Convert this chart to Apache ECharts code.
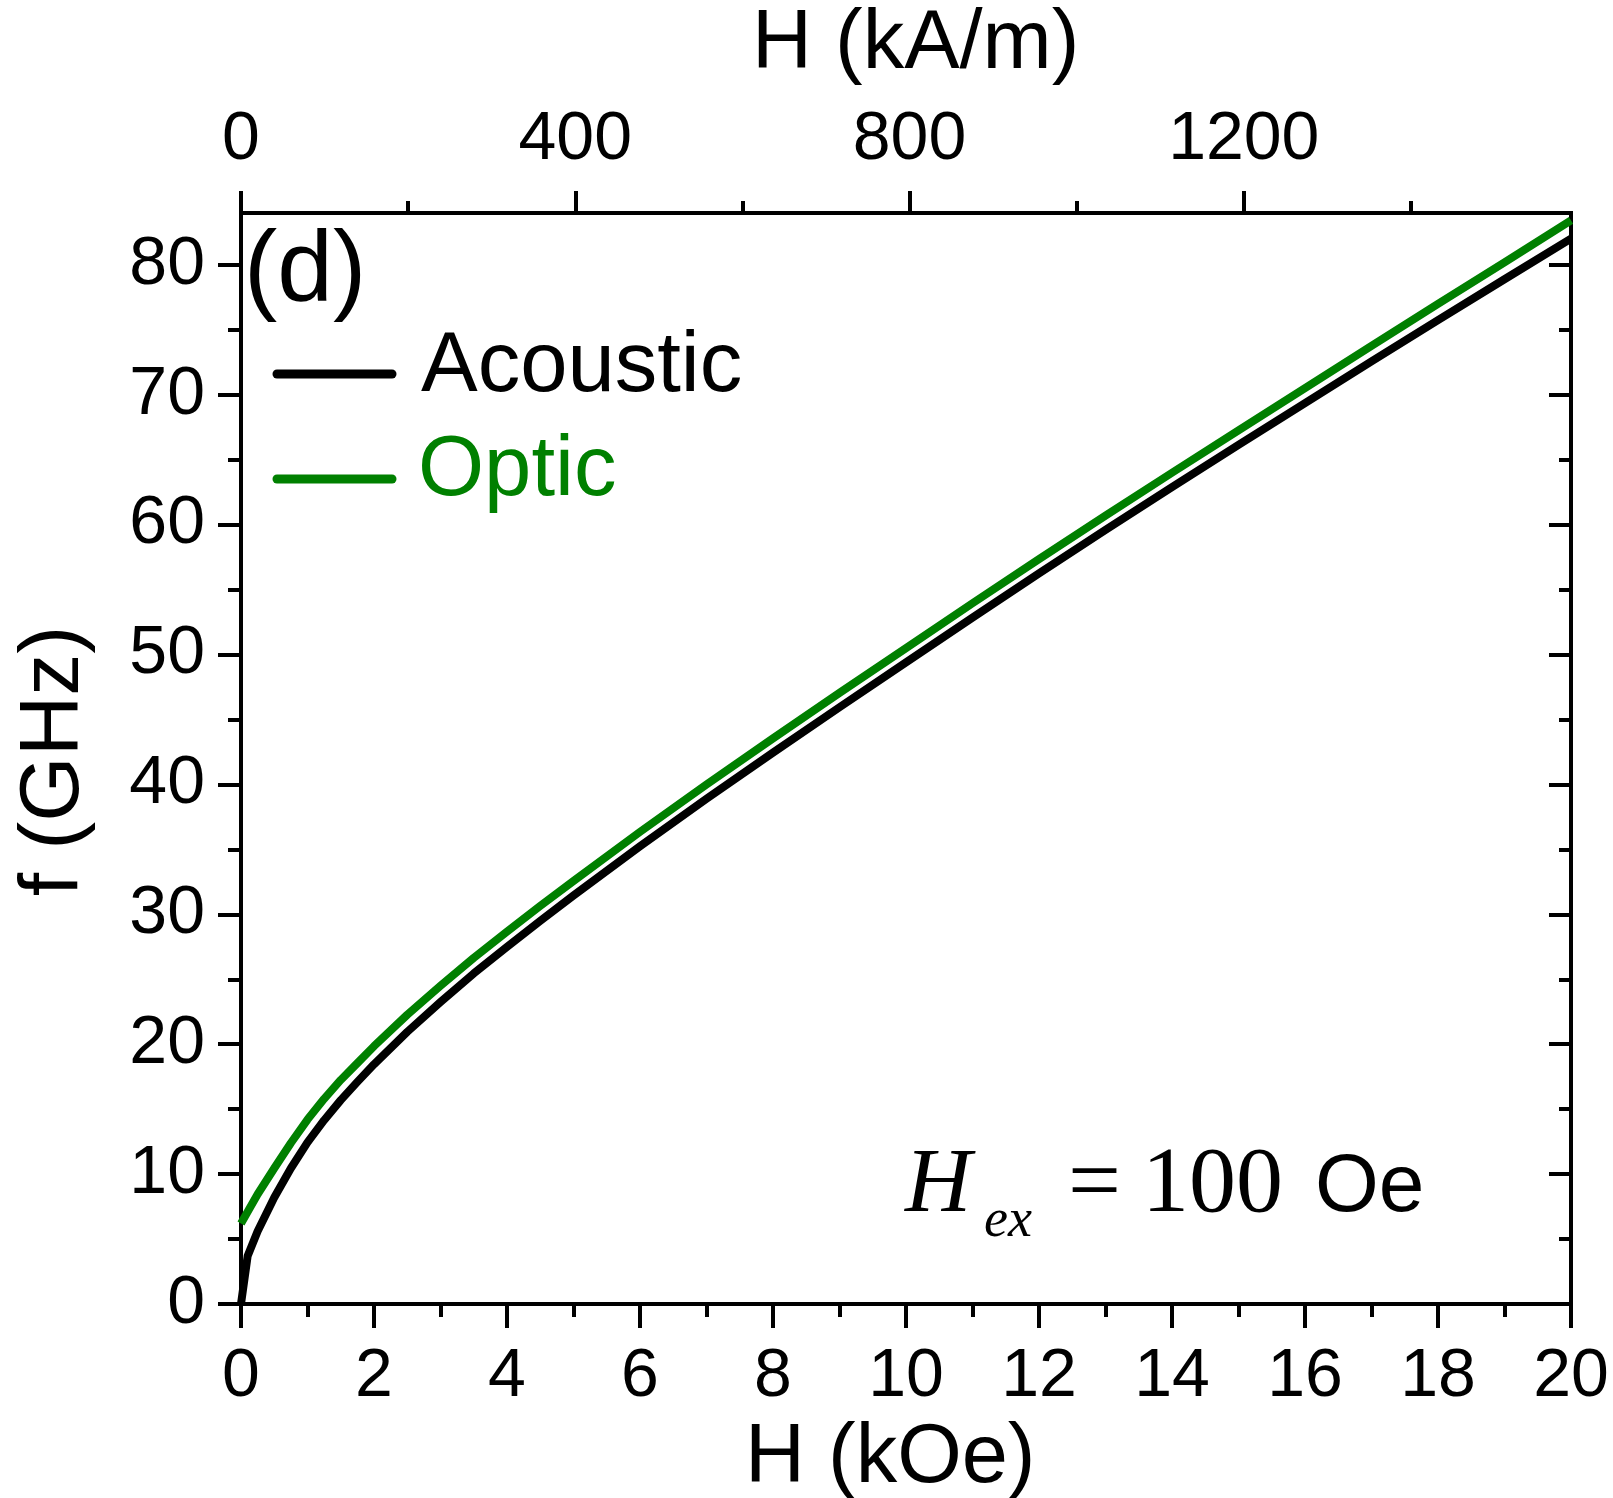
<!DOCTYPE html>
<html>
<head>
<meta charset="utf-8">
<script src="https://cdn.jsdelivr.net/npm/echarts@6/dist/echarts.min.js"></script>
<style>
html,body{margin:0;padding:0;background:#fff;}
#chart{width:1613px;height:1498px;}
</style>
</head>
<body>
<div id="chart"></div>
<script>
// ---- data ----
const fieldKOe    = [0, 0.1, 0.25, 0.5, 0.75, 1, 1.25, 1.5, 1.75, 2, 2.5, 3, 3.5, 4, 4.5, 5, 6, 7, 8, 9, 10, 11, 12, 13, 14, 15, 16, 17, 18, 19, 20];
const acousticGHz = [0, 3.7, 5.6, 8.2, 10.45, 12.45, 14.15, 15.7, 17.1, 18.45, 20.95, 23.25, 25.45, 27.5, 29.5, 31.45, 35.25, 38.9, 42.45, 45.95, 49.4, 52.85, 56.25, 59.6, 62.9, 66.15, 69.37, 72.57, 75.75, 78.9, 82.03];
const opticGHz    = [6.2, 7.1, 8.45, 10.45, 12.4, 14.2, 15.8, 17.25, 18.55, 19.85, 22.27, 24.5, 26.65, 28.67, 30.65, 32.57, 36.35, 40.0, 43.55, 47.05, 50.5, 53.95, 57.35, 60.7, 64.0, 67.27, 70.52, 73.77, 77.0, 80.2, 83.43];

const bottomTickInterval = 2;
const topMajorTicks = [0, 400, 800, 1200];
const topMinorTicks = [200, 600, 1000, 1400];
const yMajorTicks = [0, 10, 20, 30, 40, 50, 60, 70, 80];
const yMinorTicks = [5, 15, 25, 35, 45, 55, 65, 75];
const X_MIN = 0, X_MAX = 20, Y_MIN = 0, Y_MAX = 84;
const KAM_PER_KOE = 79.5775; // 1 kOe = 79.5775 kA/m

// ---- chart ----
const SANS = '"Liberation Sans", Arial, sans-serif';
const SERIF = '"Liberation Serif", "Times New Roman", serif';
const BLACK = '#000000';
const GREEN = '#008000';

const chart = echarts.init(document.getElementById('chart'), null, {renderer: 'canvas'});

const tickLine = {color: BLACK, width: 4};
const labelBase = {fontFamily: SANS, fontSize: 68, lineHeight: 68, color: BLACK};
const noLine = {show: false, onZero: false};

function pairs(xs, ys) { return xs.map((x, i) => [x, ys[i]]); }

const option = {
  animation: false,
  backgroundColor: '#ffffff',
  grid: {
    left: 241, top: 213, width: 1330, height: 1091,
    show: true, borderColor: BLACK, borderWidth: 4, backgroundColor: 'transparent',
    containLabel: false
  },
  xAxis: [
    {
      type: 'value', position: 'bottom', min: X_MIN, max: X_MAX, interval: bottomTickInterval,
      axisLine: noLine, splitLine: {show: false},
      axisTick: {show: true, inside: false, length: 24, lineStyle: tickLine},
      minorTick: {show: true, splitNumber: 2, length: 13, lineStyle: tickLine},
      axisLabel: Object.assign({}, labelBase, {margin: 39, formatter: v => String(v)})
    },
    {
      type: 'value', position: 'top', min: 0, max: X_MAX * KAM_PER_KOE,
      axisLine: noLine, splitLine: {show: false},
      axisTick: {show: true, inside: false, length: 22, lineStyle: tickLine, customValues: topMajorTicks},
      axisLabel: Object.assign({}, labelBase, {margin: 39, customValues: topMajorTicks, formatter: v => String(Math.round(v))})
    },
    {
      type: 'value', position: 'top', min: 0, max: X_MAX * KAM_PER_KOE,
      axisLine: noLine, splitLine: {show: false},
      axisTick: {show: true, inside: false, length: 12, lineStyle: tickLine, customValues: topMinorTicks},
      axisLabel: {show: false}
    }
  ],
  yAxis: [
    {
      type: 'value', position: 'left', min: Y_MIN, max: Y_MAX,
      axisLine: noLine, splitLine: {show: false},
      axisTick: {show: true, inside: false, length: 23, lineStyle: tickLine, customValues: yMajorTicks},
      axisLabel: Object.assign({}, labelBase, {margin: 36, customValues: yMajorTicks, formatter: v => String(v)})
    },
    {
      type: 'value', position: 'left', min: Y_MIN, max: Y_MAX,
      axisLine: noLine, splitLine: {show: false},
      axisTick: {show: true, inside: false, length: 13, lineStyle: tickLine, customValues: yMinorTicks},
      axisLabel: {show: false}
    },
    {
      type: 'value', position: 'right', min: Y_MIN, max: Y_MAX,
      axisLine: noLine, splitLine: {show: false},
      axisTick: {show: true, inside: true, length: 22, lineStyle: tickLine, customValues: yMajorTicks},
      axisLabel: {show: false}
    },
    {
      type: 'value', position: 'right', min: Y_MIN, max: Y_MAX,
      axisLine: noLine, splitLine: {show: false},
      axisTick: {show: true, inside: true, length: 12, lineStyle: tickLine, customValues: yMinorTicks},
      axisLabel: {show: false}
    }
  ],
  series: [
    {
      name: 'Optic', type: 'line', xAxisIndex: 0, yAxisIndex: 0,
      data: pairs(fieldKOe, opticGHz), showSymbol: false, symbol: 'none', smooth: false,
      lineStyle: {color: GREEN, width: 8, join: 'round'}, itemStyle: {color: GREEN}, z: 3
    },
    {
      name: 'Acoustic', type: 'line', xAxisIndex: 0, yAxisIndex: 0,
      data: pairs(fieldKOe, acousticGHz), showSymbol: false, symbol: 'none', smooth: false,
      lineStyle: {color: BLACK, width: 8, join: 'round'}, itemStyle: {color: BLACK}, z: 4
    }
  ],
  graphic: [
    // axis titles
    {type: 'text', x: 752, y: 45, style: {text: 'H (kA/m)', fontFamily: SANS, fontSize: 83, fill: BLACK, align: 'left', verticalAlign: 'middle'}},
    {type: 'text', x: 745, y: 1459, style: {text: 'H (kOe)', fontFamily: SANS, fontSize: 83, fill: BLACK, align: 'left', verticalAlign: 'middle'}},
    {type: 'text', x: 55, y: 761, rotation: Math.PI / 2, style: {text: 'f (GHz)', fontFamily: SANS, fontSize: 84, fill: BLACK, align: 'center', verticalAlign: 'middle'}},
    // panel label
    {type: 'text', x: 244, y: 273, style: {text: '(d)', fontFamily: SANS, fontSize: 100, fill: BLACK, align: 'left', verticalAlign: 'middle'}},
    // legend
    {type: 'line', shape: {x1: 277, y1: 374, x2: 392, y2: 374}, style: {stroke: BLACK, lineWidth: 9, lineCap: 'round'}},
    {type: 'text', x: 421, y: 368, style: {text: 'Acoustic', fontFamily: SANS, fontSize: 85, fill: BLACK, align: 'left', verticalAlign: 'middle'}},
    {type: 'line', shape: {x1: 277, y1: 479, x2: 392, y2: 479}, style: {stroke: GREEN, lineWidth: 9, lineCap: 'round'}},
    {type: 'text', x: 418, y: 472, style: {text: 'Optic', fontFamily: SANS, fontSize: 85, fill: GREEN, align: 'left', verticalAlign: 'middle'}},
    // annotation H_ex = 100 Oe
    {type: 'text', x: 905, y: 1187, style: {text: 'H', fontFamily: SERIF, fontStyle: 'italic', fontSize: 92, fill: BLACK, align: 'left', verticalAlign: 'middle'}},
    {type: 'text', x: 984, y: 1222, style: {text: 'ex', fontFamily: SERIF, fontStyle: 'italic', fontSize: 54, fill: BLACK, align: 'left', verticalAlign: 'middle'}},
    {type: 'text', x: 1068, y: 1186, style: {text: '=', fontFamily: SERIF, fontSize: 94, fill: BLACK, align: 'left', verticalAlign: 'middle'}},
    {type: 'text', x: 1142, y: 1186, style: {text: '100', fontFamily: SERIF, fontSize: 94, fill: BLACK, align: 'left', verticalAlign: 'middle'}},
    {type: 'text', x: 1315, y: 1188, style: {text: 'Oe', fontFamily: SANS, fontSize: 82, fill: BLACK, align: 'left', verticalAlign: 'middle'}}
  ]
};

chart.setOption(option);
</script>
</body>
</html>
